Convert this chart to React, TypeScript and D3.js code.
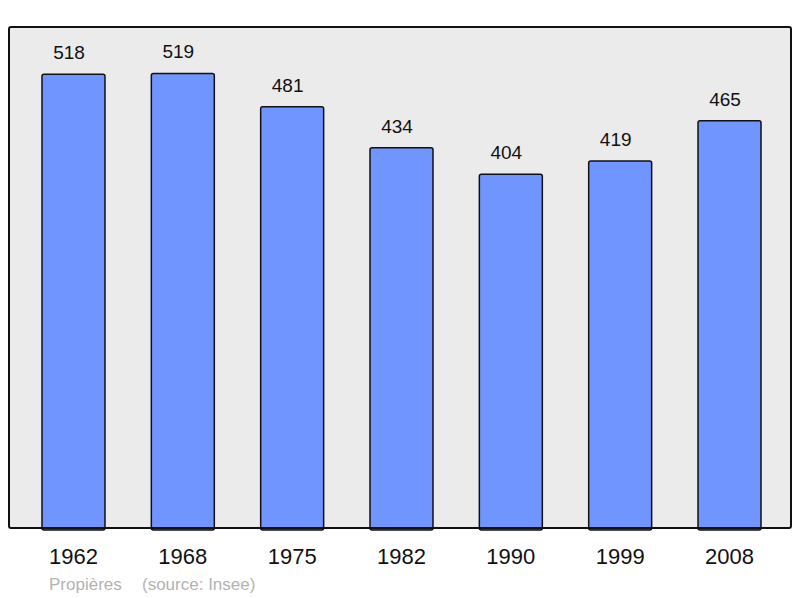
import React, { useEffect, useRef } from 'react';
import * as d3 from 'd3';

const years = ['1962', '1968', '1975', '1982', '1990', '1999', '2008'];
const population = [518, 519, 481, 434, 404, 419, 465];
const placeName = 'Propières';
const sourceNote = '(source: Insee)';

const App = () => {
  const svgRef = useRef<SVGSVGElement>(null);

  useEffect(() => {
    const width = 800;
    const height = 598;
    const frame = { left: 9, top: 27, right: 791, bottom: 528 };

    const svg = d3.select(svgRef.current);
    svg.selectAll('*').remove();
    svg.attr('width', width).attr('height', height);

    const x = d3.scaleBand()
      .domain(years)
      .range([42, 761])
      .paddingInner(0.424)
      .paddingOuter(0);

    const y = d3.scaleLinear()
      .domain([0, 572])
      .range([frame.bottom, frame.top]);

    // background panel
    svg.append('rect')
      .attr('x', frame.left)
      .attr('y', frame.top)
      .attr('width', frame.right - frame.left)
      .attr('height', frame.bottom - frame.top)
      .attr('rx', 2)
      .attr('fill', '#ebebeb')
      .attr('stroke', 'none');

    // bars
    svg.selectAll('.bar')
      .data(population)
      .enter()
      .append('rect')
      .attr('class', 'bar')
      .attr('x', (d, i) => x(years[i]) as number)
      .attr('y', d => y(d))
      .attr('width', x.bandwidth())
      .attr('height', d => frame.bottom - y(d) + 2)
      .attr('rx', 2)
      .attr('fill', '#7095ff')
      .attr('stroke', '#111')
      .attr('stroke-width', 1.5);

    // value labels
    svg.selectAll('.value')
      .data(population)
      .enter()
      .append('text')
      .attr('class', 'value')
      .attr('x', (d, i) => (x(years[i]) as number) + x.bandwidth() / 2 - 4.5)
      .attr('y', d => y(d) - 15)
      .attr('text-anchor', 'middle')
      .style('font-family', '"Liberation Sans", Arial, sans-serif')
      .style('font-size', '19px')
      .style('fill', '#111')
      .text(d => d);

    // frame outline on top
    svg.append('rect')
      .attr('x', frame.left)
      .attr('y', frame.top)
      .attr('width', frame.right - frame.left)
      .attr('height', frame.bottom - frame.top)
      .attr('rx', 2)
      .attr('fill', 'none')
      .attr('stroke', '#111')
      .attr('stroke-width', 2);

    // year labels
    svg.selectAll('.year')
      .data(years)
      .enter()
      .append('text')
      .attr('class', 'year')
      .attr('x', d => (x(d) as number) + x.bandwidth() / 2)
      .attr('y', 564)
      .attr('text-anchor', 'middle')
      .style('font-family', '"Liberation Sans", Arial, sans-serif')
      .style('font-size', '22px')
      .style('fill', '#111')
      .text(d => d);

    // footer
    svg.append('text')
      .attr('x', 49)
      .attr('y', 590)
      .style('font-family', '"Liberation Sans", Arial, sans-serif')
      .style('font-size', '17px')
      .style('fill', '#b3b3b3')
      .text(placeName);

    svg.append('text')
      .attr('x', 142)
      .attr('y', 590)
      .style('font-family', '"Liberation Sans", Arial, sans-serif')
      .style('font-size', '17px')
      .style('fill', '#b3b3b3')
      .text(sourceNote);
  }, []);

  return (
    <svg
      ref={svgRef}
      style={{ position: 'absolute', left: 0, top: 0, display: 'block', background: '#fff' }}
    />
  );
};

export default App;
